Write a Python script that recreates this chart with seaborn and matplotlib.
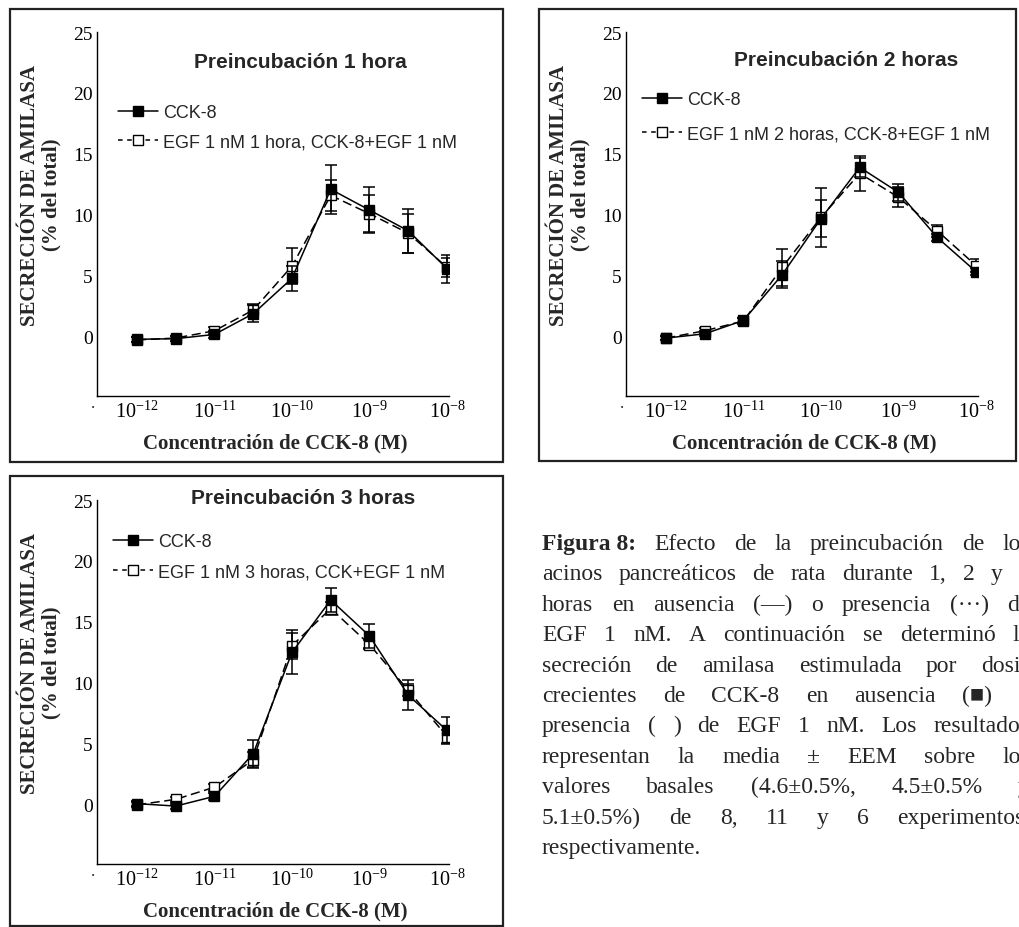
import numpy as np
import pandas as pd
import matplotlib
matplotlib.use("Agg")
import matplotlib.pyplot as plt
import seaborn as sns
from matplotlib.lines import Line2D
from matplotlib.patches import Rectangle
from matplotlib.font_manager import FontProperties

# ---------------- data ----------------
conc_log = [-12, -11.5, -11, -10.5, -10, -9.5, -9, -8.5, -8]
x_ticks = [-12, -11, -10, -9, -8]
x_tick_labels = [r"$\mathregular{10^{-12}}$", r"$\mathregular{10^{-11}}$", r"$\mathregular{10^{-10}}$",
                 r"$\mathregular{10^{-9}}$", r"$\mathregular{10^{-8}}$"]
y_ticks = [0, 5, 10, 15, 20, 25]

p1_cck = [-0.2, -0.15, 0.2, 1.9, 4.8, 12.1, 10.4, 8.7, 5.6]
p1_cck_err = [0.2, 0.2, 0.3, 0.7, 1.0, 2.0, 1.9, 1.8, 1.15]
p1_egf = [-0.25, -0.1, 0.5, 2.2, 5.8, 11.6, 10.1, 8.5, 5.7]
p1_egf_err = [0.2, 0.2, 0.3, 0.5, 1.5, 1.3, 1.5, 1.6, 0.8]

p2_cck = [-0.1, 0.25, 1.35, 5.1, 9.7, 13.9, 11.85, 8.15, 5.35]
p2_cck_err = [0.15, 0.2, 0.2, 1.1, 1.5, 0.8, 0.7, 0.3, 0.3]
p2_egf = [-0.1, 0.5, 1.3, 5.7, 9.8, 13.4, 11.45, 8.7, 5.85]
p2_egf_err = [0.15, 0.2, 0.25, 1.5, 2.4, 1.45, 0.8, 0.5, 0.5]

p3_cck = [0.1, -0.1, 0.7, 4.2, 12.5, 16.8, 13.85, 9.0, 6.1]
p3_cck_err = [0.2, 0.2, 0.3, 1.15, 1.8, 1.0, 1.0, 1.2, 1.1]
p3_egf = [0.0, 0.45, 1.45, 3.7, 13.05, 16.1, 13.15, 9.4, 5.6]
p3_egf_err = [0.2, 0.2, 0.3, 0.6, 1.05, 0.55, 0.4, 0.5, 0.5]

titles = ["Preincubación 1 hora", "Preincubación 2 horas", "Preincubación 3 horas"]
label_cck = "CCK-8"
labels_egf = ["EGF 1 nM 1 hora, CCK-8+EGF 1 nM",
              "EGF 1 nM 2 horas, CCK-8+EGF 1 nM",
              "EGF 1 nM 3 horas, CCK+EGF 1 nM"]
ylabel1 = "SECRECIÓN DE AMILASA"
ylabel2 = "(% del total)"
xlabel = "Concentración de CCK-8 (M)"

caption_lines = [
    [("Figura 8:", "bold"), ("Efecto", "normal"), ("de", "normal"), ("la", "normal"),
     ("preincubación", "normal"), ("de", "normal"), ("los", "normal")],
    "acinos pancreáticos de rata durante 1, 2 y 3",
    "horas en ausencia (—) o presencia (···) de",
    "EGF 1 nM. A continuación se determinó la",
    "secreción de amilasa estimulada por dosis",
    "crecientes de CCK-8 en ausencia (■) o",
    "presencia ( ) de EGF 1 nM. Los resultados",
    "representan la media ± EEM sobre los",
    "valores basales (4.6±0.5%, 4.5±0.5% y",
    "5.1±0.5%) de 8, 11 y 6 experimentos,",
    "respectivamente.",
]

# ---------------- style ----------------
sns.set_theme(style="white")
plt.rcParams.update({
    "font.family": ["Liberation Serif", "DejaVu Serif"],
    "mathtext.fontset": "custom",
    "mathtext.rm": "Liberation Serif",
    "mathtext.it": "Liberation Serif:italic",
    "mathtext.bf": "Liberation Serif:bold",
    "axes.linewidth": 1.0,
    "axes.edgecolor": "black",
})

W, H = 1020, 928
fig = plt.figure(figsize=(W / 100, H / 100), dpi=100)


def fx(x):
    return x / W


def fy(y):
    return 1 - y / H


serif = ["Liberation Serif", "DejaVu Serif"]
sans = ["Liberation Sans", "DejaVu Sans"]

# panel frames
for (x0, y0, x1, y1) in [(10, 10, 503, 463), (539, 10, 1016, 462), (10, 477, 503, 927)]:
    fig.add_artist(Rectangle((fx(x0), fy(y1)), fx(x1 - x0), (y1 - y0) / H,
                             transform=fig.transFigure, fill=False,
                             edgecolor="#222222", linewidth=1.6))

panels = [
    dict(ox=0, oy=0, cck=p1_cck, cerr=p1_cck_err, egf=p1_egf, eerr=p1_egf_err,
         title_xy=(300, 62), leg_xy=(118, 105), leg_sp=0.7),
    dict(ox=529, oy=0, cck=p2_cck, cerr=p2_cck_err, egf=p2_egf, eerr=p2_egf_err,
         title_xy=(846, 61), leg_xy=(642, 92), leg_sp=0.98),
    dict(ox=0, oy=468, cck=p3_cck, cerr=p3_cck_err, egf=p3_egf, eerr=p3_egf_err,
         title_xy=(303, 499), leg_xy=(113, 534), leg_sp=0.75),
]

ms = 6.5
for i, p in enumerate(panels):
    ox, oy = p["ox"], p["oy"]
    ax = fig.add_axes([fx(97 + ox), fy(397 + oy), 352 / W, 364 / H])
    ax.set_facecolor("none")

    # EGF (open squares, dashed)
    ax.errorbar(conc_log, p["egf"], yerr=p["eerr"], fmt="none", ecolor="black",
                elinewidth=1.1, capsize=4.5, capthick=1.1, zorder=2)
    sns.lineplot(x=conc_log, y=p["egf"], ax=ax, color="black", linewidth=1.1,
                 linestyle=(0, (6, 3)), marker="s", markersize=ms,
                 markerfacecolor="white", markeredgecolor="black",
                 markeredgewidth=1.0, legend=False, zorder=3)
    # CCK-8 (filled squares, solid)
    ax.errorbar(conc_log, p["cck"], yerr=p["cerr"], fmt="none", ecolor="black",
                elinewidth=1.1, capsize=4.5, capthick=1.1, zorder=4)
    sns.lineplot(x=conc_log, y=p["cck"], ax=ax, color="black", linewidth=1.1,
                 linestyle="-", marker="s", markersize=ms,
                 markerfacecolor="black", markeredgecolor="black",
                 markeredgewidth=1.0, legend=False, zorder=5)

    ax.set_xlim(-12.516, -7.974)
    ax.set_ylim(-4.85, 25)
    ax.set_xticks(x_ticks)
    ax.set_xticklabels(x_tick_labels, fontsize=14.5)
    ax.set_yticks(y_ticks)
    ax.set_yticklabels([str(v) for v in y_ticks], fontsize=14, family=serif)
    ax.tick_params(axis="both", direction="in", length=7, width=1.0, colors="black")
    ax.tick_params(axis="y", pad=3)
    ax.tick_params(axis="x", pad=3)
    for s in ["top", "right"]:
        ax.spines[s].set_visible(False)
    ax.set_xlabel("")
    ax.set_ylabel("")
    ax.grid(False)

    # origin dot
    fig.text(fx(93 + ox), fy(404 + oy), ".", fontsize=12, family=serif,
             ha="center", va="center")

    # labels
    fig.text(fx(275 + ox), fy(443 + oy), xlabel, fontsize=15, family=serif,
             weight="bold", ha="center", va="center")
    fig.text(fx(30 + ox), fy(195 + oy), ylabel1, fontsize=15, family=serif,
             weight="bold", ha="center", va="center", rotation=90)
    fig.text(fx(51 + ox), fy(195 + oy), ylabel2, fontsize=15, family=serif,
             weight="bold", ha="center", va="center", rotation=90)
    fig.text(fx(p["title_xy"][0]), fy(p["title_xy"][1]), titles[i], fontsize=15,
             family=sans, weight="bold", ha="center", va="center")

    handles = [
        Line2D([], [], color="black", lw=1.1, marker="s", markersize=ms,
               markerfacecolor="black", markeredgecolor="black"),
        Line2D([], [], color="black", lw=1.1, linestyle=(0, (3, 3)), marker="s",
               markersize=ms, markerfacecolor="white", markeredgecolor="black"),
    ]
    ax.legend(handles, [label_cck, labels_egf[i]], loc="upper left",
              bbox_to_anchor=(fx(p["leg_xy"][0]), fy(p["leg_xy"][1])),
              bbox_transform=fig.transFigure, frameon=False, handlelength=2.2,
              handletextpad=0.3, labelspacing=p["leg_sp"], borderpad=0,
              borderaxespad=0, prop=FontProperties(family=sans, size=13))

# ---------------- caption (justified) ----------------
cap_fs = 17
renderer = fig.canvas.get_renderer()


def text_width(s, weight):
    t = fig.text(0, 0, s, fontsize=cap_fs, family=serif, weight=weight)
    w = t.get_window_extent(renderer).width
    t.remove()
    return w


x_left, x_right = 542, 1030
for li, line in enumerate(caption_lines):
    if isinstance(line, str):
        tokens = [(w, "normal") for w in line.split(" ")]
    else:
        tokens = line
    y = 550 + 30.4 * li
    widths = [text_width(t, wt) for t, wt in tokens]
    if li == len(caption_lines) - 1 or len(tokens) == 1:
        gap = text_width("a a", "normal") - 2 * text_width("a", "normal")
    else:
        gap = (x_right - x_left - sum(widths)) / (len(tokens) - 1)
    x = x_left
    for (t, wt), w in zip(tokens, widths):
        fig.text(fx(x), fy(y), t, fontsize=cap_fs, family=serif, weight=wt,
                 ha="left", va="baseline")
        x += w + gap

fig.savefig("out.png", dpi=100)
